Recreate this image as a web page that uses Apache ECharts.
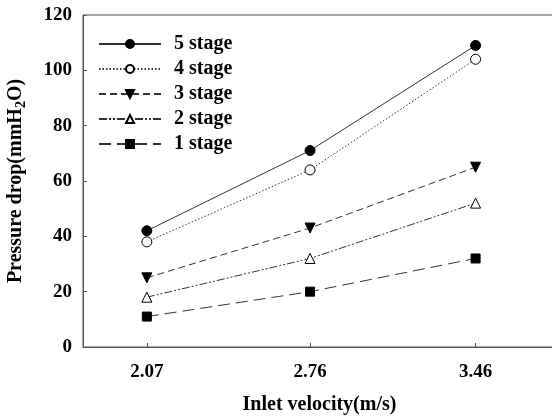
<!DOCTYPE html>
<html>
<head>
<meta charset="utf-8">
<script src="https://cdn.jsdelivr.net/npm/echarts@6/dist/echarts.min.js"></script>
<style>
  html, body { margin: 0; padding: 0; background: #fff; }
  #chart { width: 552px; height: 418px; }
</style>
</head>
<body>
<div id="chart"></div>
<script>
// inlet velocity (m/s)
const velocity = [2.07, 2.76, 3.46]
// pressure drop (mmH2O) per stage
const stage5 = [42, 71, 109]
const stage4 = [38, 64, 104]
const stage3 = [25, 43, 65]
const stage2 = [18, 32, 52]
const stage1 = [11, 20, 32]
const yTicks = [0, 20, 40, 60, 80, 100, 120]

const font = 'Liberation Serif'
const lineColor = '#333'

function pairs(vals) {
  return vals.map((v, i) => [velocity[i], v])
}

function makeSeries(name, vals, lineType, symbol, filled, size, rotate) {
  return {
    name: name,
    type: 'line',
    data: pairs(vals),
    symbol: symbol,
    symbolSize: size,
    symbolRotate: rotate || 0,
    showAllSymbol: true,
    lineStyle: { color: lineColor, width: 1, type: lineType },
    itemStyle: {
      color: filled ? '#000' : '#fff',
      borderColor: '#000',
      borderWidth: 1
    },
    emphasis: { disabled: true },
    z: 3
  }
}

const chart = echarts.init(document.getElementById('chart'))

const option = {
  animation: false,
  backgroundColor: '#fff',
  grid: {
    left: 83,
    top: 15,
    width: 473,
    bottom: 71,
    outerBoundsMode: 'none',
    containLabel: false,
    show: true,
    borderColor: '#555',
    borderWidth: 1
  },
  legend: {
    orient: 'vertical',
    left: 93,
    top: 29,
    itemWidth: 62,
    itemHeight: 10,
    itemGap: 5,
    textStyle: { fontFamily: font, fontWeight: 'bold', fontSize: 20, color: '#000', padding: [0, 0, 0, 8] },
    data: ['5 stage', '4 stage', '3 stage', '2 stage', '1 stage']
  },
  xAxis: {
    type: 'value',
    min: 1.8,
    max: 3.8,
    name: 'Inlet velocity(m/s)',
    nameLocation: 'middle',
    nameGap: 48,
    nameTextStyle: { fontFamily: font, fontWeight: 'bold', fontSize: 20, color: '#000' },
    splitLine: { show: false },
    axisLine: { lineStyle: { color: '#555' } },
    axisTick: { inside: true, length: 4, customValues: velocity, lineStyle: { color: '#555' } },
    axisLabel: {
      customValues: velocity,
      margin: 16,
      fontFamily: font, fontWeight: 'bold', fontSize: 19, color: '#000',
      formatter: v => v.toFixed(2)
    }
  },
  yAxis: {
    type: 'value',
    min: 0,
    max: 120,
    interval: 20,
    name: 'Pressure drop(mmH{sub|2}O)',
    nameLocation: 'middle',
    nameGap: 55,
    nameTextStyle: {
      fontFamily: font, fontWeight: 'bold', fontSize: 20, color: '#000',
      rich: {
        sub: { fontFamily: font, fontWeight: 'bold', fontSize: 14, color: '#000', padding: [11, 0, 0, 0] }
      }
    },
    splitLine: { show: false },
    axisLine: { show: true, lineStyle: { color: '#555' } },
    axisTick: { show: true, inside: true, length: 4, lineStyle: { color: '#555' } },
    axisLabel: {
      margin: 11,
      fontFamily: font, fontWeight: 'bold', fontSize: 19, color: '#000',
      customValues: yTicks
    }
  },
  series: [
    makeSeries('5 stage', stage5, 'solid', 'circle', true, 10),
    makeSeries('4 stage', stage4, [1.5, 2], 'circle', false, 10),
    makeSeries('3 stage', stage3, [7, 4], 'triangle', true, 10, 180),
    makeSeries('2 stage', stage2, [8, 2, 2, 2, 2, 2], 'triangle', false, 10),
    makeSeries('1 stage', stage1, [12, 6], 'rect', true, 9)
  ]
}

chart.setOption(option)
</script>
</body>
</html>
